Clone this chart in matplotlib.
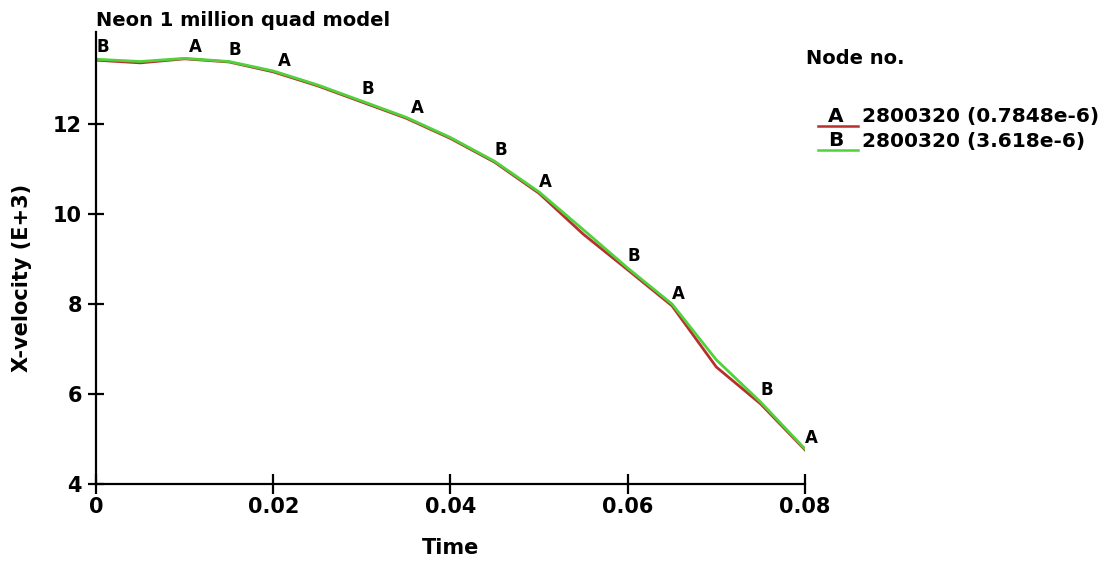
import numpy as np
import matplotlib
matplotlib.use('Agg')
import matplotlib.pyplot as plt

# Data
time = [0, 0.005, 0.01, 0.015, 0.02, 0.025, 0.03, 0.035, 0.04,
        0.045, 0.05, 0.055, 0.06, 0.065, 0.07, 0.075, 0.08]
vel_a = [13.42, 13.36, 13.45, 13.38, 13.16, 12.85, 12.49, 12.13, 11.68,
         11.15, 10.46, 9.55, 8.76, 7.96, 6.60, 5.78, 4.76]
vel_b = [13.44, 13.39, 13.46, 13.39, 13.18, 12.87, 12.51, 12.15, 11.70,
         11.17, 10.49, 9.65, 8.80, 8.00, 6.76, 5.82, 4.78]
a_marks = [0.0105, 0.0205, 0.0355, 0.05, 0.065, 0.08]
b_marks = [0.0, 0.015, 0.030, 0.045, 0.06, 0.075]
legend_labels = ['2800320 (0.7848e-6)', '2800320 (3.618e-6)']

red = '#b8302e'
green = '#4fd23a'
plt.rcParams['font.family'] = ['DejaVu Sans']
plt.rcParams['font.weight'] = 'bold'

fig = plt.figure(figsize=(11.06, 5.64), dpi=100)
ax = fig.add_axes([0.0868, 0.1418, 0.641, 0.801])

ax.plot(time, vel_a, color=red, lw=2)
ax.plot(time, vel_b, color=green, lw=2)

# curve id letters along the lines
for t in a_marks:
    ax.annotate('A', (t, np.interp(t, time, vel_a)), xytext=(0, 2),
                textcoords='offset points', ha='left', va='bottom',
                fontsize=12, fontweight='bold')
for t in b_marks:
    ax.annotate('B', (t, np.interp(t, time, vel_b)), xytext=(0, 2),
                textcoords='offset points', ha='left', va='bottom',
                fontsize=12, fontweight='bold')

ax.set_xlim(0, 0.08)
ax.set_ylim(4, 14.04)
ax.set_xticks([0, 0.02, 0.04, 0.06, 0.08])
ax.set_xticklabels(['0', '0.02', '0.04', '0.06', '0.08'])
ax.set_yticks([4, 6, 8, 10, 12])
ax.spines['top'].set_visible(False)
ax.spines['right'].set_visible(False)
for s in ['left', 'bottom']:
    ax.spines[s].set_linewidth(1.6)
ax.tick_params(axis='x', direction='inout', length=14, width=1.6, labelsize=15, pad=2)
ax.tick_params(axis='y', direction='inout', length=12, width=1.6, labelsize=15, pad=4)

fig.text(96 / 1106, 1 - 20 / 564, 'Neon 1 million quad model', fontsize=14,
         fontweight='bold', ha='left', va='center')
fig.text(22 / 1106, 1 - 278 / 564, 'X-velocity (E+3)', fontsize=15,
         fontweight='bold', rotation=90, ha='center', va='center')
fig.text(451 / 1106, 1 - 548 / 564, 'Time', fontsize=15,
         fontweight='bold', ha='center', va='center')

# legend block
fig.text(806 / 1106, 1 - 58 / 564, 'Node no.', fontsize=14,
         fontweight='bold', ha='left', va='center')
rows = [117, 141]
for lab, txt, col, y in zip(['A', 'B'], legend_labels, [red, green], rows):
    fig.text(828 / 1106, 1 - y / 564, lab, fontsize=14.5, fontweight='bold',
             ha='left', va='center')
    fig.text(862 / 1106, 1 - y / 564, txt, fontsize=14.5, fontweight='bold',
             ha='left', va='center')
    fig.add_artist(plt.Line2D([818 / 1106, 858 / 1106],
                              [1 - (y + 9) / 564, 1 - (y + 9) / 564],
                              color=col, lw=1.8))

fig.savefig('out.png', dpi=100)
